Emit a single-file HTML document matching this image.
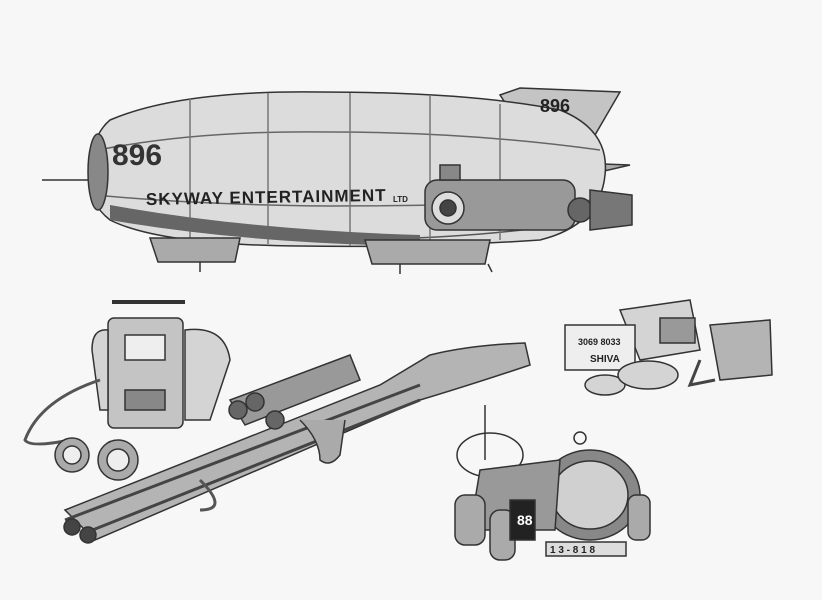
<!DOCTYPE html>
<html><head><meta charset="utf-8"><style>
html,body{margin:0;padding:0;background:#f7f7f7;}
svg{display:block}
text{font-family:"Liberation Sans",sans-serif;}
</style></head><body>
<svg width="822" height="600" viewBox="0 0 822 600" xmlns="http://www.w3.org/2000/svg">
<rect width="822" height="600" fill="#f7f7f7"/>
<g stroke="#333" stroke-width="1.5" fill="none">
<!-- blimp -->
<line x1="42" y1="180" x2="95" y2="180"/>
<path d="M500 95 L520 88 L620 92 L595 135 L530 140 Z" fill="#c4c4c4"/>
<path d="M495 160 L630 165 L600 172 L495 172 Z" fill="#aaa"/>
<path d="M110 120 Q180 90 320 92 Q470 92 560 110 Q610 130 605 175 Q600 225 540 240 Q420 248 300 246 Q160 245 110 220 Q85 200 90 170 Q92 135 110 120 Z" fill="#dcdcdc"/>
<path d="M110 210 Q200 238 320 240 Q460 240 560 225" stroke="#555"/>
<path d="M98 150 Q200 130 330 132 Q470 132 600 150" stroke="#666"/>
<path d="M95 195 Q200 205 330 206 Q470 206 600 200" stroke="#666"/>
<ellipse cx="98" cy="172" rx="10" ry="38" fill="#888"/>
<line x1="190" y1="98" x2="190" y2="238" stroke="#777"/>
<line x1="268" y1="93" x2="268" y2="244" stroke="#777"/>
<line x1="350" y1="93" x2="350" y2="246" stroke="#777"/>
<line x1="430" y1="96" x2="430" y2="244" stroke="#777"/>
<line x1="500" y1="104" x2="500" y2="240" stroke="#777"/>
<path d="M110 205 Q250 230 420 235 L420 246 Q250 244 110 220Z" fill="#666" stroke="none"/>
<rect x="425" y="180" width="150" height="50" rx="12" fill="#999"/>
<circle cx="448" cy="208" r="16" fill="#ddd"/><circle cx="448" cy="208" r="8" fill="#444"/>
<circle cx="580" cy="210" r="12" fill="#666"/>
<path d="M590 190 L632 195 L632 225 L590 230Z" fill="#777"/>
<rect x="440" y="165" width="20" height="15" fill="#888"/>
<path d="M150 238 L240 238 L235 262 L158 262Z" fill="#aaa"/>
<path d="M365 240 L490 240 L485 264 L372 264Z" fill="#aaa"/>
<line x1="200" y1="262" x2="200" y2="272"/><line x1="400" y1="264" x2="400" y2="274"/><line x1="488" y1="264" x2="492" y2="272"/>
<!-- gun -->
<path d="M65 510 L380 385 L430 355 Q470 345 525 343 L530 365 Q470 385 420 400 L95 540 Z" fill="#b4b4b4"/>
<path d="M65 520 L420 385" stroke="#444" stroke-width="3"/>
<path d="M80 535 L420 400" stroke="#444" stroke-width="3"/>
<circle cx="72" cy="527" r="8" fill="#444"/><circle cx="88" cy="535" r="8" fill="#444"/>
<line x1="112" y1="302" x2="185" y2="302" stroke-width="4"/>
<rect x="108" y="318" width="75" height="110" rx="6" fill="#c4c4c4"/>
<rect x="125" y="335" width="40" height="25" fill="#eee"/>
<rect x="125" y="390" width="40" height="20" fill="#888"/>
<path d="M185 330 Q225 325 230 360 L210 420 L185 420Z" fill="#d4d4d4"/>
<path d="M108 330 Q92 328 92 350 L100 410 L108 410Z" fill="#d4d4d4"/>
<path d="M100 380 Q40 400 25 440 Q30 448 70 440" stroke="#555" stroke-width="3"/>
<circle cx="72" cy="455" r="17" fill="#aaa"/><circle cx="72" cy="455" r="9" fill="#eee"/>
<circle cx="118" cy="460" r="20" fill="#aaa"/><circle cx="118" cy="460" r="11" fill="#eee"/>
<path d="M230 400 L350 355 L360 380 L245 425Z" fill="#999"/>
<circle cx="238" cy="410" r="9" fill="#666"/><circle cx="255" cy="402" r="9" fill="#666"/><circle cx="275" cy="420" r="9" fill="#666"/>
<path d="M300 420 Q320 440 320 460 Q330 468 340 455 L345 420" fill="#aaa"/>
<path d="M200 480 Q230 510 200 510" stroke="#555" stroke-width="3"/>
<!-- small items right -->
<path d="M620 310 L690 300 L700 350 L640 360Z" fill="#d4d4d4"/>
<rect x="565" y="325" width="70" height="45" fill="#eee"/>
<rect x="660" y="318" width="35" height="25" fill="#999"/>
<path d="M710 325 L770 320 L772 375 L720 380Z" fill="#b4b4b4"/>
<path d="M700 360 L690 385 L715 380" stroke="#444" stroke-width="3"/>
<ellipse cx="605" cy="385" rx="20" ry="10" fill="#d4d4d4"/>
<ellipse cx="648" cy="375" rx="30" ry="14" fill="#d4d4d4"/>
<!-- bottom right device -->
<line x1="485" y1="405" x2="485" y2="460"/>
<ellipse cx="490" cy="455" rx="33" ry="22"/>
<ellipse cx="590" cy="495" rx="50" ry="45" fill="#888"/>
<ellipse cx="590" cy="495" rx="38" ry="34" fill="#d0d0d0"/>
<path d="M480 470 L560 460 L555 530 L470 530Z" fill="#999"/>
<rect x="455" y="495" width="30" height="50" rx="10" fill="#aaa"/>
<rect x="490" y="510" width="25" height="50" rx="10" fill="#aaa"/>
<rect x="510" y="500" width="25" height="40" fill="#222"/>
<rect x="628" y="495" width="22" height="45" rx="8" fill="#aaa"/>
<rect x="546" y="542" width="80" height="14" fill="#ddd"/>
<circle cx="580" cy="438" r="6"/>
</g>
<g fill="#222" font-weight="bold">
<text x="146" y="205" font-size="17" letter-spacing="1" transform="rotate(-1 146 205)">SKYWAY ENTERTAINMENT</text>
<text x="393" y="202" font-size="8">LTD</text>
<text x="112" y="165" font-size="30" fill="#333">896</text>
<text x="540" y="112" font-size="18">896</text>
<text x="578" y="345" font-size="9">3069 8033</text>
<text x="590" y="362" font-size="10">SHIVA</text>
<text x="550" y="553" font-size="10">1 3 - 8 1 8</text>
<text x="517" y="525" font-size="14" fill="#fff">88</text>
</g>
</svg>
</body></html>
